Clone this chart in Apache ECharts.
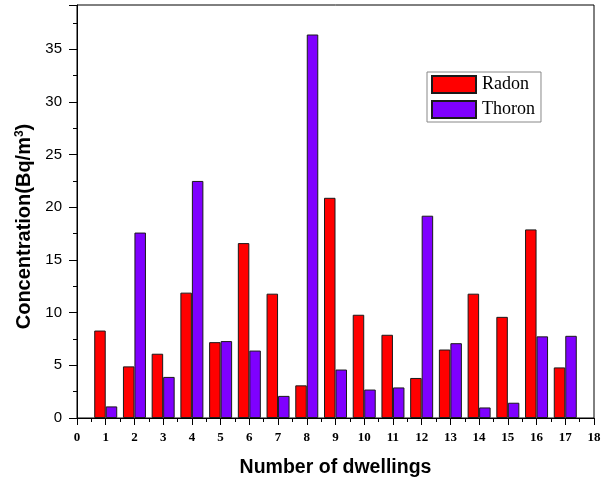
<!DOCTYPE html>
<html>
<head>
<meta charset="utf-8">
<script src="https://cdn.jsdelivr.net/npm/echarts@6/dist/echarts.min.js"></script>
<style>
  html, body { margin: 0; padding: 0; background: #fff; }
  #chart { width: 604px; height: 483px; }
</style>
</head>
<body>
<div id="chart"></div>
<script>
// Dwelling numbers along the x axis
const dwellings = [1, 2, 3, 4, 5, 6, 7, 8, 9, 10, 11, 12, 13, 14, 15, 16, 17];
// Radon concentration per dwelling (Bq/m3)
const radon = [8.3, 4.9, 6.1, 11.9, 7.2, 16.6, 11.8, 3.1, 20.9, 9.8, 7.9, 3.8, 6.5, 11.8, 9.6, 17.9, 4.8];
// Thoron concentration per dwelling (Bq/m3)
const thoron = [1.1, 17.6, 3.9, 22.5, 7.3, 6.4, 2.1, 36.4, 4.6, 2.7, 2.9, 19.2, 7.1, 1.0, 1.45, 7.75, 7.8];

const pairs = (vals) => dwellings.map((d, i) => [d, vals[i]]);

const chart = echarts.init(document.getElementById('chart'));
chart.setOption({
  animation: false,
  backgroundColor: '#fff',
  grid: {
    left: 77, right: 10, top: 5, bottom: 65,
    show: true, borderColor: '#000', borderWidth: 1
  },
  legend: {
    orient: 'vertical',
    left: 427, top: 72,
    itemWidth: 44, itemHeight: 17, itemGap: 6,
    padding: [3, 6, 3, 4],
    borderColor: '#888', borderWidth: 1,
    icon: 'rect',
    textStyle: { fontFamily: 'Liberation Serif', fontSize: 18, color: '#000', padding: [0, 0, 0, 1] },
    data: ['Radon', 'Thoron']
  },
  xAxis: {
    type: 'value',
    min: 0, max: 18, interval: 1,
    name: 'Number of dwellings',
    nameLocation: 'middle',
    nameGap: 40,
    nameTextStyle: { fontFamily: 'Arial, Liberation Sans', fontWeight: 'bold', fontSize: 19.5, color: '#000' },
    axisLine: { onZero: false, lineStyle: { color: '#000', width: 1 } },
    axisTick: { show: true, inside: false, length: 7, lineStyle: { color: '#000' } },
    minorTick: { show: true, splitNumber: 2, length: 4, lineStyle: { color: '#000' } },
    splitLine: { show: false },
    axisLabel: { fontFamily: 'Liberation Serif', fontWeight: 'bold', fontSize: 13, color: '#000', margin: 13 }
  },
  yAxis: {
    type: 'value',
    min: 0, max: 39.2, interval: 5,
    name: '{t|Concentration(Bq/m}{s|3}{t|)}',
    nameLocation: 'middle',
    nameGap: 41,
    nameRotate: 90,
    nameTextStyle: {
      padding: [0, 30, 0, 0],
      rich: {
        t: { fontFamily: 'Arial, Liberation Sans', fontWeight: 'bold', fontSize: 20, color: '#000' },
        s: { fontFamily: 'Arial, Liberation Sans', fontWeight: 'bold', fontSize: 12, color: '#000', verticalAlign: 'top', padding: [0, 0, 10, 0] }
      }
    },
    axisLine: { show: true, lineStyle: { color: '#000', width: 1 } },
    axisTick: { show: true, length: 8, lineStyle: { color: '#000' } },
    minorTick: { show: true, splitNumber: 2, length: 4, lineStyle: { color: '#000' } },
    splitLine: { show: false },
    axisLabel: { fontFamily: 'Arial, Liberation Sans', fontSize: 15, color: '#000', margin: 15, showMaxLabel: false }
  },
  series: [
    {
      name: 'Radon', type: 'bar',
      data: pairs(radon),
      barWidth: 11.5, barGap: '0%',
      itemStyle: { color: '#ff0000', borderColor: '#1a1a1a', borderWidth: 1 }
    },
    {
      name: 'Thoron', type: 'bar',
      data: pairs(thoron),
      barWidth: 11.5, barGap: '0%',
      itemStyle: { color: '#7f00ff', borderColor: '#1a1a1a', borderWidth: 1 }
    }
  ]
});
</script>
</body>
</html>
